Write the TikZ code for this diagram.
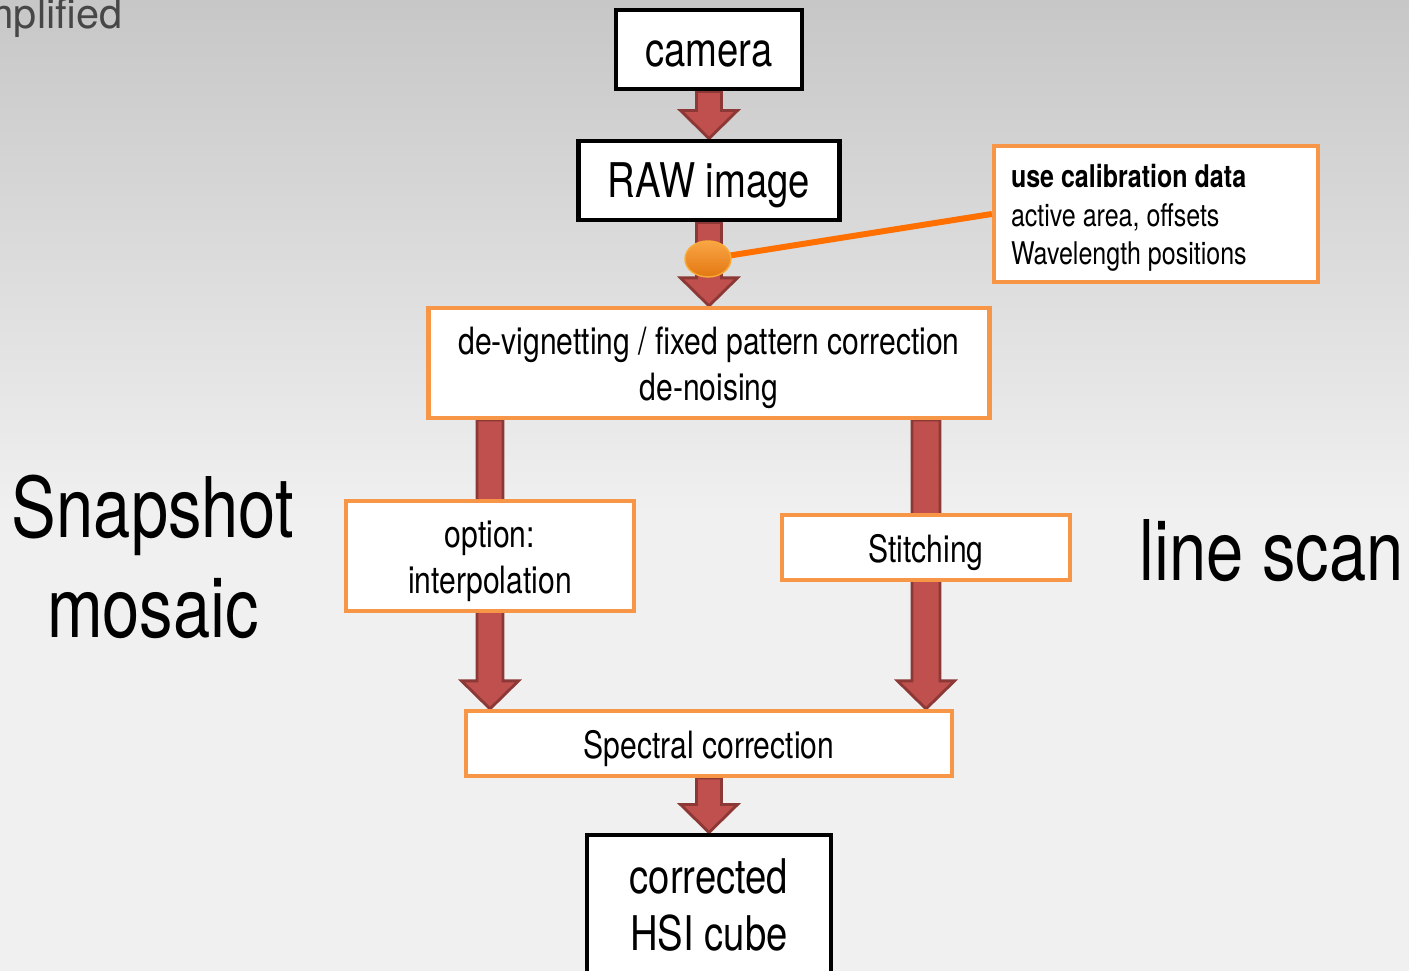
\documentclass[tikz,border=0pt]{standalone}
\usepackage{fontspec}
\setmainfont[FakeStretch=0.8]{TeX Gyre Heros}
\newfontfamily\titlefont{TeX Gyre Heros}
\usetikzlibrary{shapes,arrows,calc}
\definecolor{arrowred}{HTML}{C0504D}
\definecolor{arrowdark}{HTML}{8C3836}
\definecolor{boxorange}{HTML}{F79646}
\definecolor{lineorange}{HTML}{FF7000}
\definecolor{dottop}{HTML}{FAA544}
\definecolor{dotbottom}{HTML}{E27812}
\tikzstyle{plainbox}=[draw=black,
                      line width=1.4pt,
                      fill=white,
                      inner sep=0pt,
                      text centered,
                      font=\fontsize{13.6}{16}\selectfont]
\tikzstyle{linebox}=[plainbox,
                     execute at begin node={\rule[-3pt]{0pt}{15.6pt}}]
\tikzstyle{procbox}=[draw=boxorange,
                     line width=1.2pt,
                     fill=white,
                     inner sep=0pt,
                     align=flush center,
                     execute at begin node={\rule{0pt}{1em}},
                     font=\fontsize{10.7}{13}\selectfont]
\tikzstyle{blockarrow}=[fill=arrowred,draw=arrowdark,line width=0.8pt,line join=miter]
\newcommand{\blockarrow}[3][0.125]{%
  \draw[blockarrow] let \p1=(#2), \p2=(#3) in
    (\x1-#1cm,\y1) -- (\x1-#1cm,\y2+0.28cm) -- (\x1-0.285cm,\y2+0.28cm) -- (\x1,\y2)
    -- (\x1+0.285cm,\y2+0.28cm) -- (\x1+#1cm,\y2+0.28cm) -- (\x1+#1cm,\y1) -- cycle;}
\pgfdeclarelayer{back}
\pgfdeclarelayer{arrows}
\pgfsetlayers{back,arrows,main}

\begin{document}
\begin{tikzpicture}
    \useasboundingbox (0,0) rectangle (14.09,9.71);
    \begin{pgfonlayer}{back}
    \fill[black!6] (0,0) rectangle (14.09,4.6);
    \shade[top color=black!22,bottom color=black!6] (0,4.6) rectangle (14.09,9.71);
    \end{pgfonlayer}
    \node[anchor=base east,inner sep=0pt,text=black!72,font=\titlefont\fontsize{11.8}{14}\selectfont] (title) at (1.23,9.42) {Simplified};
    \node[linebox,minimum width=1.86cm,minimum height=0.79cm] (camera) at (7.09,9.215) {camera};
    \node[linebox,minimum width=2.61cm,minimum height=0.79cm,below of=camera,node distance=1.31cm] (raw) {RAW image};
    \node[procbox,minimum width=5.61cm,minimum height=1.10cm,text width=5.5cm,below of=raw,node distance=1.825cm] (devign) {de-vignetting / fixed pattern correction\\de-noising};
    \node[procbox,minimum width=2.88cm,minimum height=1.10cm,text width=2.8cm] (interp) at (4.90,4.15) {option:\\interpolation};
    \node[procbox,minimum width=2.88cm,minimum height=0.65cm] (stitch) at (9.26,4.235) {Stitching};
    \node[procbox,minimum width=4.86cm,minimum height=0.65cm,below of=devign,node distance=3.805cm] (spectral) {Spectral correction};
    \node[plainbox,minimum width=2.44cm,minimum height=1.40cm,below of=spectral,node distance=1.615cm,align=center] (cube) {corrected\\HSI cube};
    \node[procbox,minimum width=3.24cm,minimum height=1.36cm,align=flush left,font=\fontsize{8.9}{11}\selectfont,text width=2.9cm] (calib) at (11.56,7.57) {{\bfseries use calibration data}\\active area, offsets\\Wavelength positions};
    \node[align=center,font=\fontsize{23.8}{28.5}\selectfont] (snapshot) at (1.53,4.14) {Snapshot\\mosaic};
    \node[anchor=base west,font=\fontsize{23.8}{28.5}\selectfont] (linescan) at (11.27,3.90) {line scan};
    \begin{pgfonlayer}{arrows}
    \blockarrow{camera.south}{raw.north}
    \blockarrow{raw.south}{devign.north}
    \blockarrow[0.13]{interp |- devign.south}{interp |- spectral.north}
    \blockarrow[0.14]{stitch |- devign.south}{stitch |- spectral.north}
    \blockarrow{spectral.south}{cube.north}
    \end{pgfonlayer}
    \coordinate (tap) at (7.08,7.12);
    \draw[lineorange,line width=1.7pt] (tap) -- (calib.west);
    \node[ellipse,minimum width=0.46cm,minimum height=0.36cm,inner sep=0pt,draw=boxorange!80!yellow,thin,top color=dottop,bottom color=dotbottom] (dot) at (tap) {};
\end{tikzpicture}
\end{document}
